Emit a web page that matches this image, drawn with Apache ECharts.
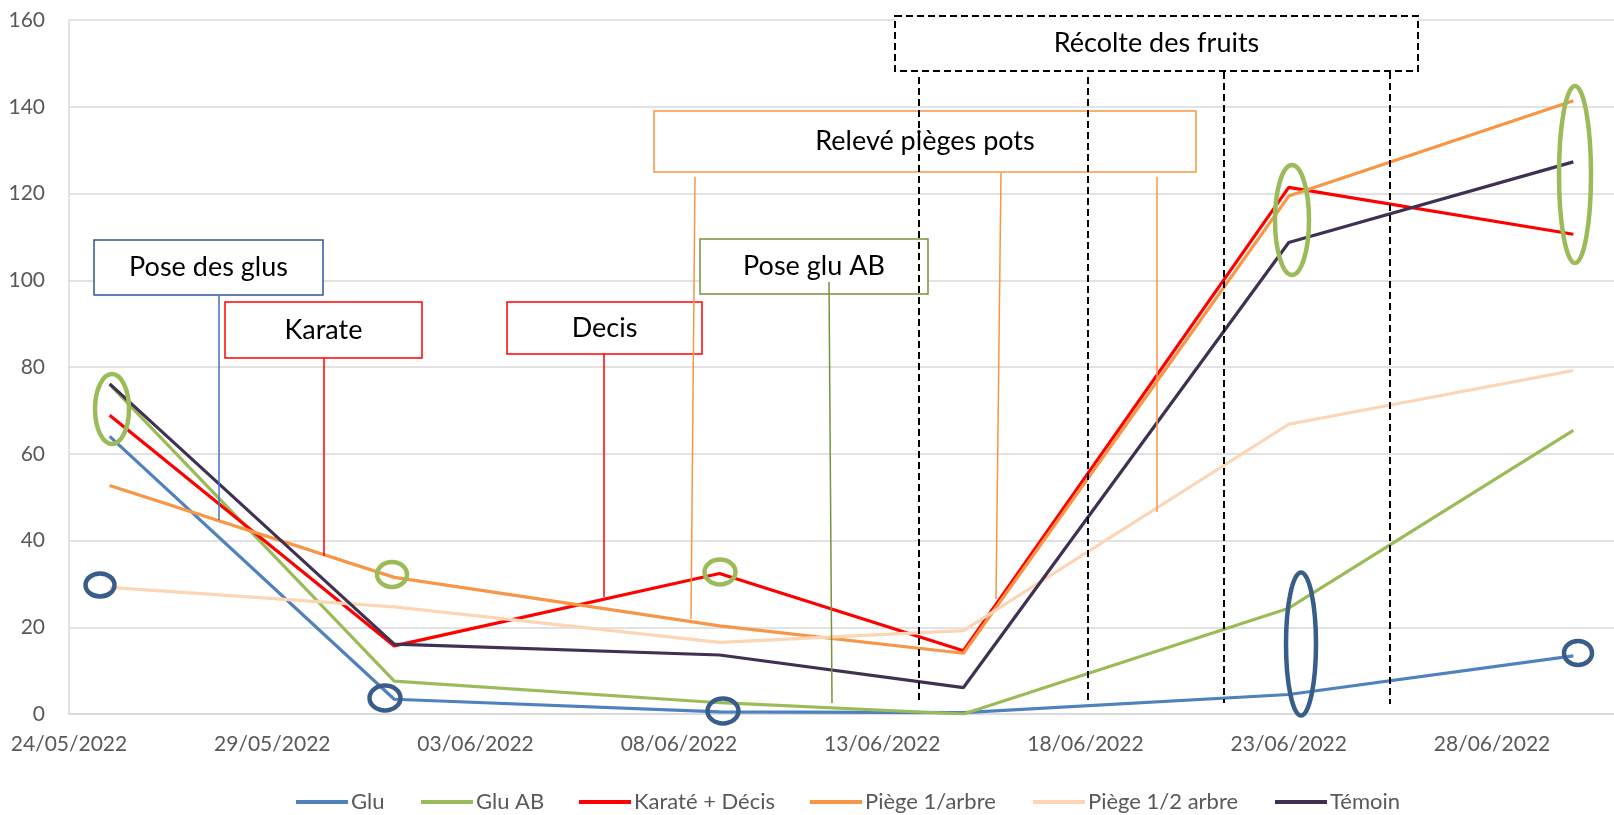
<!DOCTYPE html>
<html>
<head>
<meta charset="utf-8">
<title>Relevés</title>
<script src="https://cdn.jsdelivr.net/npm/echarts@6/dist/echarts.min.js"></script>
<style>
  html, body { margin: 0; padding: 0; background: #fff; }
  #chart { width: 1614px; height: 815px; }
</style>
</head>
<body>
<div id="chart"></div>
<script>
// dates des relevés
var dates = ['2022-05-25', '2022-06-01', '2022-06-09', '2022-06-15', '2022-06-23', '2022-06-30']
var glu = [64.0, 3.4, 0.5, 0.3, 4.5, 13.4]
var gluAB = [76.0, 7.6, 2.6, 0.0, 24.4, 65.4]
var karateDecis = [68.9, 15.7, 32.4, 14.6, 121.4, 110.6]
var piege1 = [52.7, 31.5, 20.3, 14.0, 119.4, 141.4]
var piege12 = [29.2, 24.7, 16.5, 19.2, 66.8, 79.2]
var temoin = [76.1, 16.1, 13.6, 6.1, 108.7, 127.3]
var seriesNames = ['Glu', 'Glu AB', 'Karaté + Décis', 'Piège 1/arbre', 'Piège 1/2 arbre', 'Témoin']

var DAY = 86400000
var xMin = Date.UTC(2022, 4, 24)
var xMax = xMin + 38 * DAY

function toTs (s) {
  var p = s.split('-')
  return Date.UTC(+p[0], +p[1] - 1, +p[2])
}
function pad (n) { return n < 10 ? '0' + n : '' + n }
function fmtDate (v) {
  var d = new Date(v)
  return pad(d.getUTCDate()) + '/' + pad(d.getUTCMonth() + 1) + '/' + d.getUTCFullYear()
}
function pairs (vals) {
  return vals.map(function (v, i) { return [toTs(dates[i]), v] })
}

var FONT = 'Lato, "Open Sans", sans-serif'

function mkSeries (name, vals, color) {
  return {
    name: name,
    type: 'line',
    data: pairs(vals),
    symbol: 'none',
    color: color,
    lineStyle: { width: 3.2, color: color },
    emphasis: { disabled: true }
  }
}

// une légende par entrée, pour caler chaque item
var legendLeft = [291, 416, 574, 805, 1028, 1270]
var legends = seriesNames.map(function (n, i) {
  return {
    data: [n],
    left: legendLeft[i],
    top: 786,
    icon: 'rect',
    itemWidth: 52,
    itemHeight: 4,
    textStyle: { color: '#595959', fontSize: 22, fontFamily: FONT, padding: [0, 0, 0, -2] }
  }
})

// cadres d'annotation
function box (x, y, w, h, stroke, text, dashed) {
  return [
    {
      type: 'rect', z: 100,
      shape: { x: x, y: y, width: w, height: h },
      style: { fill: '#fff', stroke: stroke, lineWidth: dashed ? 2 : 1.5, lineDash: dashed ? [7, 4] : null }
    },
    {
      type: 'text', z: 101,
      style: {
        text: text, x: x + w / 2, y: y + h / 2, align: 'center', verticalAlign: 'middle',
        fill: '#000', font: '27px ' + FONT
      }
    }
  ]
}
function seg (x1, y1, x2, y2, stroke, dash) {
  return {
    type: 'line', z: 102,
    shape: { x1: x1, y1: y1, x2: x2, y2: y2 },
    style: { stroke: stroke, lineWidth: dash ? 2 : 1.5, lineDash: dash ? [7, 4] : null }
  }
}
function ring (cx, cy, rx, ry, stroke) {
  return {
    type: 'ellipse', z: 103,
    shape: { cx: cx, cy: cy, rx: rx, ry: ry },
    style: { fill: 'none', stroke: stroke, lineWidth: 4.5 }
  }
}

var GREEN = '#9BBB59'
var NAVY = '#385D8A'

var graphics = [].concat(
  seg(919, 77, 919, 700, '#000', true),
  seg(1088, 77, 1088, 701, '#000', true),
  seg(1224, 72, 1224, 703, '#000', true),
  seg(1390, 72, 1390, 704, '#000', true),
  box(895, 16, 523, 55, '#000', 'Récolte des fruits', true),
  box(654, 111, 542, 61, '#F79646', 'Relevé pièges pots'),
  box(700, 239, 228, 55, '#77933C', 'Pose glu AB'),
  box(94, 240, 229, 55, '#2F5597', 'Pose des glus'),
  box(225, 302, 197, 56, '#FF0000', 'Karate'),
  box(507, 302, 195, 52, '#FF0000', 'Decis'),
  seg(219, 295, 219, 520, '#4472C4'),
  seg(324, 358, 324, 556, '#FF0000'),
  seg(604, 354, 604, 597, '#FF0000'),
  seg(695, 177, 691, 619, '#F79646'),
  seg(1001, 173, 996, 599, '#F79646'),
  seg(1157, 177, 1157, 512, '#F79646'),
  seg(829, 282, 832, 703, '#77933C'),
  ring(100, 585, 14.5, 11.5, NAVY),
  ring(112, 409, 17, 35, GREEN),
  ring(392, 574.5, 15, 12.5, GREEN),
  ring(385, 698, 15.5, 12.5, NAVY),
  ring(720, 572, 15.5, 12.5, GREEN),
  ring(723, 711, 15.5, 12.5, NAVY),
  ring(1292, 220, 17, 55, GREEN),
  ring(1301, 644, 15, 71.5, NAVY),
  ring(1575, 174.5, 16, 88.5, GREEN),
  ring(1578, 653, 14, 12, NAVY)
)

var myChart = echarts.init(document.getElementById('chart'))
myChart.setOption({
  animation: false,
  textStyle: { fontFamily: FONT },
  grid: { left: 69, right: 0, top: 20, bottom: 101, containLabel: false },
  legend: legends,
  xAxis: {
    type: 'value',
    min: xMin,
    max: xMax,
    interval: 5 * DAY,
    axisLine: { show: true, onZero: false, lineStyle: { color: '#d9d9d9', width: 1.5 } },
    axisTick: { show: false },
    splitLine: { show: false },
    axisLabel: {
      formatter: fmtDate,
      color: '#595959',
      fontSize: 21,
      margin: 20,
      showMaxLabel: false
    }
  },
  yAxis: {
    type: 'value',
    min: 0,
    max: 160,
    interval: 20,
    axisLine: { show: true, lineStyle: { color: '#d9d9d9', width: 1.5 } },
    axisTick: { show: false },
    splitLine: { show: true, lineStyle: { color: '#d9d9d9', width: 1.5 } },
    axisLabel: { color: '#595959', fontSize: 21, margin: 24 }
  },
  series: [
    mkSeries(seriesNames[0], glu, '#4F81BD'),
    mkSeries(seriesNames[1], gluAB, '#9BBB59'),
    mkSeries(seriesNames[2], karateDecis, '#FF0000'),
    mkSeries(seriesNames[3], piege1, '#F79646'),
    mkSeries(seriesNames[4], piege12, '#FCD5B5'),
    mkSeries(seriesNames[5], temoin, '#403152')
  ],
  graphic: graphics
})
</script>
</body>
</html>
